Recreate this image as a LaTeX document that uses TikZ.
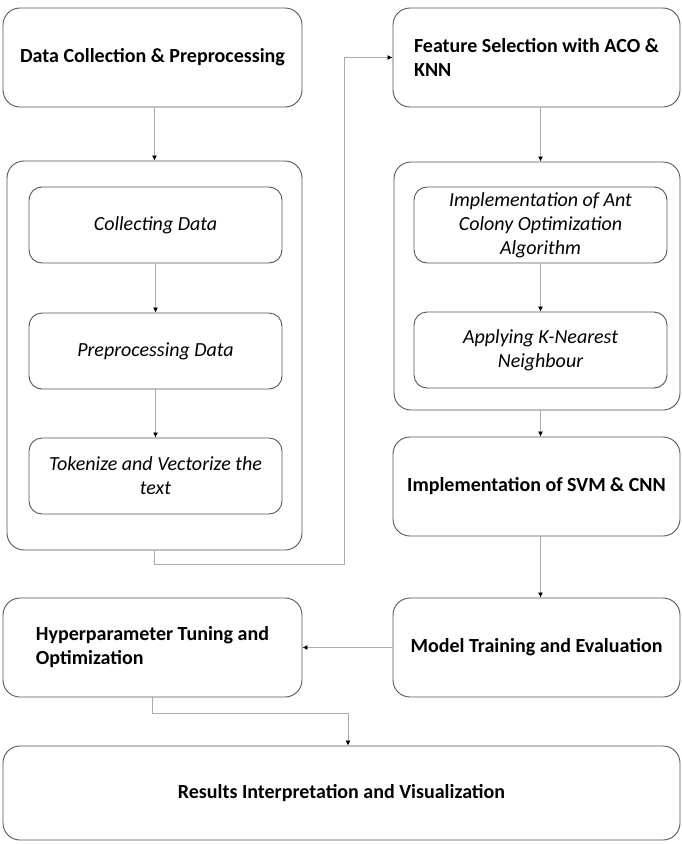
\documentclass[tikz,border=0pt]{standalone}
\usepackage{fontspec}
\setmainfont{Carlito}
\usetikzlibrary{arrows.meta}

\definecolor{boxline}{HTML}{555555}
\definecolor{wire}{HTML}{ABABAB}

\begin{document}
\begin{tikzpicture}[x=1pt, y=-1pt, font=\fontsize{20}{24}\selectfont,
  >={Latex[black, length=5pt, width=5pt]},
  block/.style={draw=boxline, line width=0.9pt, rounded corners=17pt, minimum width=299pt, minimum height=99pt, align=center, font=\fontsize{20}{24}\selectfont\bfseries, inner sep=0pt},
  group/.style={draw=boxline, line width=0.9pt, rounded corners=17pt, minimum width=295pt, inner sep=0pt},
  inner/.style={draw=boxline, line width=0.9pt, rounded corners=13pt, minimum width=253pt, minimum height=76pt, align=center, font=\fontsize{20}{24}\selectfont\itshape, inner sep=0pt},
  wire/.style={draw=wire, line width=0.8pt}]

\useasboundingbox (0,0) rectangle (682,844);

% ---- left column ------------------------------------------------------------------
\node[block] (dcp) at (152.5,57.5) {Data Collection \& Preprocessing};
\node[group, minimum height=389pt] (grpL) at (154.5,355.5) {};
\node[inner] (collect) at (155.5,225) {Collecting Data};
\node[inner] (prep) at (155.5,351) {Preprocessing Data};
\node[inner] (token) at (155.5,476) {Tokenize and Vectorize the\\text};

% ---- right column -----------------------------------------------------------------
\node[block, minimum width=287pt, align=left] (fs) at (536.5,57.5) {Feature Selection with ACO \&\\KNN};
\node[group, minimum width=286pt, minimum height=248pt] (grpR) at (537,286) {};
\node[inner] (aco) at (540.5,225) {Implementation of Ant\\Colony Optimization\\Algorithm};
\node[inner] (knn) at (540.5,350) {Applying K-Nearest\\Neighbour};
\node[block, minimum width=287pt] (svm) at (536.5,486.5) {Implementation of SVM \& CNN};
\node[block, minimum width=287pt] (mte) at (536.5,647.5) {Model Training and Evaluation};

% ---- bottom -----------------------------------------------------------------------
\node[block, align=left] (hpt) at (152.5,647.5) {Hyperparameter Tuning and\\Optimization};
\node[block, minimum width=677pt, minimum height=94pt] (riv) at (341.5,793) {Results Interpretation and Visualization};

\coordinate (jL) at (344,564);
\coordinate (jB) at (348,713);

\draw[wire, ->] (dcp.south -| grpL.north) -- (grpL.north);
\draw[wire, ->] (collect.south) -- (prep.north);
\draw[wire, ->] (prep.south) -- (token.north);
\draw[wire, ->] (grpL.south) |- (jL) |- (fs.west);
\draw[wire, ->] (fs.south -| aco.north) -- (aco.north |- grpR.north);
\draw[wire, ->] (aco.south) -- (knn.north);
\draw[wire, ->] (aco.south |- grpR.south) -- (aco.south |- svm.north);
\draw[wire, ->] (aco.south |- svm.south) -- (aco.south |- mte.north);
\draw[wire, ->] (mte.west) -- (hpt.east);
\draw[wire, ->] (hpt.south) |- (jB) -- (jB |- riv.north);

\end{tikzpicture}
\end{document}
